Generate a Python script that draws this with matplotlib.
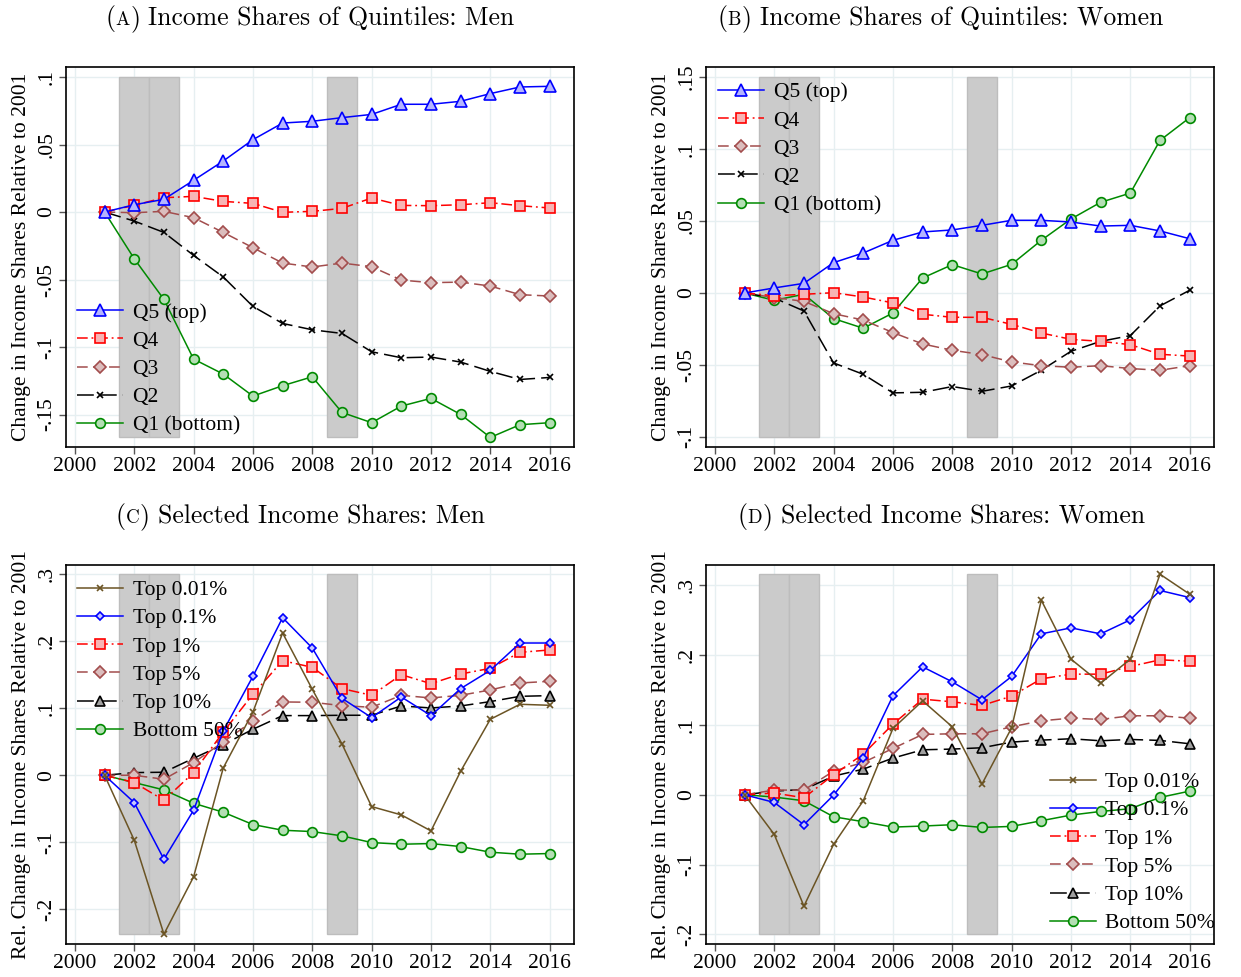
import matplotlib
matplotlib.use('Agg')
import matplotlib.pyplot as plt
import numpy as np

plt.rcParams['font.family'] = ['Liberation Serif', 'DejaVu Serif']
plt.rcParams['axes.unicode_minus'] = False

years = list(range(2001, 2017))
recession_years = [2002, 2003, 2009]

# (A) quintile shares, men
men_q5 = [0, .0054, .0094, .0235, .0378, .0536, .0659, .0672, .0699, .0723, .0798, .0798, .0820, .0877, .0926, .0931]
men_q4 = [0, .0050, .0106, .0116, .0079, .0064, -.0002, .0005, .0027, .0104, .0049, .0047, .0054, .0069, .0047, .0030]
men_q3 = [0, -.0005, .0005, -.0042, -.0151, -.0264, -.0378, -.0407, -.0378, -.0405, -.0504, -.0523, -.0519, -.0548, -.0612, -.0622]
men_q2 = [0, -.0067, -.0151, -.0321, -.0481, -.0699, -.0825, -.0872, -.0899, -.1035, -.1079, -.1074, -.1111, -.1180, -.1240, -.1225]
men_q1 = [0, -.0346, -.0647, -.1089, -.1200, -.1363, -.1286, -.1220, -.1484, -.1560, -.1437, -.1380, -.1499, -.1669, -.1575, -.1560]

# (B) quintile shares, women
women_q5 = [0, .0035, .0067, .0211, .0278, .0366, .0424, .0438, .0470, .0505, .0505, .0493, .0465, .0470, .0431, .0377]
women_q4 = [0, -.0019, -.0009, .0002, -.0028, -.0069, -.0148, -.0169, -.0169, -.0218, -.0278, -.0322, -.0336, -.0359, -.0426, -.0438]
women_q3 = [0, -.0032, -.0058, -.0144, -.0188, -.0275, -.0354, -.0398, -.0428, -.0479, -.0505, -.0516, -.0505, -.0525, -.0537, -.0505]
women_q2 = [0, -.0035, -.0125, -.0486, -.0565, -.0694, -.0690, -.0650, -.0683, -.0646, -.0537, -.0405, -.0336, -.0296, -.0090, .0019]
women_q1 = [0, -.0051, -.0009, -.0178, -.0245, -.0139, .0104, .0197, .0132, .0199, .0366, .0514, .0630, .0694, .1060, .1218]

# (C) top and bottom shares, men
men_top001 = [0, -.0970, -.2373, -.1517, .0110, .0945, .2124, .1284, .0468, -.0468, -.0592, -.0831, .0060, .0836, .1060, .1045]
men_top01 = [0, -.0408, -.1254, -.0522, .0662, .1478, .2353, .1900, .1149, .0861, .1169, .0891, .1294, .1567, .1975, .1975]
men_top1 = [0, -.0109, -.0373, .0040, .0647, .1209, .1711, .1612, .1294, .1194, .1502, .1368, .1512, .1597, .1836, .1871]
men_top5 = [0, .0000, -.0060, .0189, .0498, .0811, .1095, .1090, .1040, .1015, .1194, .1154, .1194, .1274, .1378, .1403]
men_top10 = [0, .0040, .0045, .0254, .0458, .0687, .0891, .0891, .0896, .0896, .1035, .1005, .1035, .1100, .1179, .1189]
men_bot50 = [0, -.0109, -.0219, -.0418, -.0552, -.0736, -.0821, -.0841, -.0905, -.1005, -.1030, -.1020, -.1065, -.1149, -.1179, -.1169]

# (D) top and bottom shares, women
women_top001 = [0, -.0568, -.1594, -.0711, -.0086, .0949, .1345, .0973, .0153, .0959, .2786, .1942, .1598, .1942, .3158, .2872]
women_top01 = [0, -.0110, -.0429, -.0005, .0530, .1417, .1832, .1617, .1360, .1694, .2304, .2390, .2304, .2505, .2925, .2824]
women_top1 = [0, .0024, -.0043, .0286, .0582, .1011, .1369, .1331, .1279, .1412, .1660, .1727, .1727, .1837, .1932, .1913]
women_top5 = [0, .0067, .0067, .0339, .0463, .0663, .0864, .0873, .0873, .0973, .1059, .1097, .1078, .1131, .1131, .1097]
women_top10 = [0, .0052, .0076, .0267, .0367, .0525, .0644, .0654, .0673, .0754, .0782, .0802, .0773, .0792, .0778, .0730]
women_bot50 = [0, -.0033, -.0086, -.0315, -.0386, -.0463, -.0448, -.0429, -.0468, -.0453, -.0372, -.0291, -.0239, -.0200, -.0038, .0052]

quintile_labels = ['Q5 (top)', 'Q4', 'Q3', 'Q2', 'Q1 (bottom)']
top_labels = ['Top 0.01%', 'Top 0.1%', 'Top 1%', 'Top 5%', 'Top 10%', 'Bottom 50%']

ticks_a = [.1, .05, 0, -.05, -.1, -.15]
ticklabels_a = ['.1', '.05', '0', '-.05', '-.1', '-.15']
ticks_b = [.15, .1, .05, 0, -.05, -.1]
ticklabels_b = ['.15', '.1', '.05', '0', '-.05', '-.1']
ticks_cd = [.3, .2, .1, 0, -.1, -.2]
ticklabels_cd = ['.3', '.2', '.1', '0', '-.1', '-.2']

BLUE = '#0000ff'
RED = '#ff0000'
MAROON = '#a24d4d'
GREEN = '#008a00'
BROWN = '#6b5424'

quintile_styles = [
    dict(color=BLUE, ls='-', marker='^', ms=8, mfc='#b4b4ff', mec=BLUE),
    dict(color=RED, ls=(0, (7, 2.5, 1.2, 2.5)), marker='s', ms=7, mfc='#f7b4b4', mec=RED),
    dict(color=MAROON, ls=(0, (7, 3.5)), marker='D', ms=6.5, mfc='#dbbdbd', mec=MAROON),
    dict(color='black', ls=(0, (11, 4)), marker='x', ms=4.5, mec='black'),
    dict(color=GREEN, ls='-', marker='o', ms=7, mfc='#b4deb4', mec=GREEN),
]
top_styles = [
    dict(color=BROWN, ls='-', marker='x', ms=4.5, mec=BROWN),
    dict(color=BLUE, ls='-', marker='D', ms=4.5, mfc='#c8c8ff', mec=BLUE),
    dict(color=RED, ls=(0, (7, 2.5, 1.2, 2.5)), marker='s', ms=7, mfc='#f7b4b4', mec=RED),
    dict(color=MAROON, ls=(0, (7, 3.5)), marker='D', ms=6.5, mfc='#dbbdbd', mec=MAROON),
    dict(color='black', ls=(0, (11, 4)), marker='^', ms=7.5, mfc='#a0a0a0', mec='black'),
    dict(color=GREEN, ls='-', marker='o', ms=7, mfc='#b4deb4', mec=GREEN),
]

fig = plt.figure(figsize=(12.41, 9.77), dpi=100)
W, H = 1241, 977


def make_axes(left, top, right, bottom):
    return fig.add_axes([left / W, 1 - bottom / H, (right - left) / W, (bottom - top) / H])


def draw_panel(ax, series, labels, styles, ticks, ticklabels, ylim, ylabel, legend_loc, legend_anchor):
    ax.set_xlim(1999.7, 2016.82)
    ax.set_ylim(*ylim)
    # recession bars span from the lowest to the highest of ticks and data
    lo = min(min(ticks), min(min(s) for s in series))
    hi = max(max(ticks), max(max(s) for s in series))
    ax.bar(recession_years, hi - lo, width=1.0, bottom=lo, color='#cbcbcb',
           edgecolor='#bdbdbd', linewidth=1.0, zorder=1)
    # draw bottom series first so the top series sits above
    for vals, lab, st in reversed(list(zip(series, labels, styles))):
        ax.plot(years, vals, label=lab, lw=1.1, mew=1.2, zorder=3, **st)
    ax.set_xticks(range(2000, 2017, 2))
    ax.set_yticks(ticks)
    ax.set_yticklabels(ticklabels)
    ax.grid(True, color='#e6eff1', lw=1.0, zorder=0)
    ax.set_axisbelow(True)
    ax.tick_params(axis='both', direction='out', length=5, width=1, color='#555555',
                   labelsize=15.5, pad=2)
    ax.tick_params(axis='y', labelrotation=90)
    for lbl in ax.get_yticklabels():
        lbl.set_va('center')
    for sp in ax.spines.values():
        sp.set_linewidth(1.2)
        sp.set_color('black')
    ax.set_ylabel(ylabel, fontsize=15.5)
    ax.yaxis.set_label_coords(-0.069, 0.5)
    handles, labs = ax.get_legend_handles_labels()
    order = list(reversed(range(len(handles))))
    ax.legend([handles[i] for i in order], [labs[i] for i in order], loc=legend_loc,
              bbox_to_anchor=legend_anchor, frameon=False, fontsize=15.5,
              handlelength=2.15, handletextpad=0.42, labelspacing=0.38,
              borderpad=0, borderaxespad=0)


def small_caps_title(xc, yc, letter, rest, size=18.5):
    renderer = fig.canvas.get_renderer()
    parts = [('(', size), (letter, size * 0.74), (')', size), (rest, size)]
    gaps = [0, 0.5, 0.5, 8]
    texts, widths = [], []
    for s, fs in parts:
        t = fig.text(0, yc / H, s, fontsize=fs, family='cmr10', va='baseline')
        widths.append(t.get_window_extent(renderer).width)
        texts.append(t)
    total = sum(widths) + sum(gaps)
    x = xc - total / 2
    for t, w, g in zip(texts, widths, gaps):
        x += g
        t.set_x(x / W)
        x += w


ax_a = make_axes(66, 67, 574, 447)
draw_panel(ax_a, [men_q5, men_q4, men_q3, men_q2, men_q1], quintile_labels, quintile_styles,
           ticks_a, ticklabels_a, (-0.174, 0.1074), 'Change in Income Shares Relative to 2001',
           'upper left', (0.022, 0.380))

ax_b = make_axes(706, 67, 1214, 447)
draw_panel(ax_b, [women_q5, women_q4, women_q3, women_q2, women_q1], quintile_labels, quintile_styles,
           ticks_b, ticklabels_b, (-0.107, 0.157), 'Change in Income Shares Relative to 2001',
           'upper left', (0.024, 0.960))

ax_c = make_axes(66, 565, 574, 944)
draw_panel(ax_c, [men_top001, men_top01, men_top1, men_top5, men_top10, men_bot50], top_labels, top_styles,
           ticks_cd, ticklabels_cd, (-0.252, 0.314), 'Rel. Change in Income Shares Relative to 2001',
           'upper left', (0.022, 0.960))

ax_d = make_axes(706, 565, 1214, 944)
draw_panel(ax_d, [women_top001, women_top01, women_top1, women_top5, women_top10, women_bot50], top_labels, top_styles,
           ticks_cd, ticklabels_cd, (-0.2137, 0.329), 'Rel. Change in Income Shares Relative to 2001',
           'lower left', (0.677, 0.028))

small_caps_title(310, 977 - 25, 'A', 'Income Shares of Quintiles: Men')
small_caps_title(940, 977 - 25, 'B', 'Income Shares of Quintiles: Women')
small_caps_title(300, 977 - 523, 'C', 'Selected Income Shares: Men')
small_caps_title(941, 977 - 523, 'D', 'Selected Income Shares: Women')

fig.savefig('out.png', dpi=100, facecolor='white')
